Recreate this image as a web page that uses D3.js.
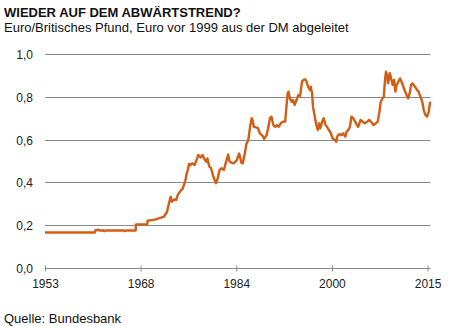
<!DOCTYPE html>
<html>
<head>
<meta charset="utf-8">
<script src="https://cdn.jsdelivr.net/npm/d3@7"></script>
<style>
  html, body { margin: 0; padding: 0; background: #fff; }
  svg { display: block; font-family: Arial, "Liberation Sans", sans-serif; }
</style>
</head>
<body>
<svg id="chart" width="451" height="326"></svg>
<script>
// Euro / British pound, sample points (decimal year, rate)
const years = [
  1953.0, 1961.15, 1961.2, 1961.5, 1961.6, 1961.9, 1962.0, 1962.6, 1962.7, 1962.9,
  1966.0, 1966.1, 1966.3, 1967.85, 1967.9, 1969.75, 1969.8, 1970.5, 1971.0, 1971.6,
  1972.0, 1972.5, 1972.7, 1973.0, 1973.2, 1973.5, 1973.6, 1973.8, 1974.0, 1974.3,
  1974.5, 1974.8, 1975.2, 1975.5, 1975.8, 1976.0, 1976.2, 1976.4, 1976.6, 1976.8,
  1977.1, 1977.5, 1977.9, 1978.1, 1978.5, 1978.8, 1979.1, 1979.4, 1979.6, 1979.9,
  1980.2, 1980.5, 1980.8, 1981.0, 1981.3, 1981.6, 1981.9, 1982.3, 1982.6, 1983.0,
  1983.2, 1983.5, 1983.9, 1984.4, 1984.8, 1985.2, 1985.4, 1985.75, 1986.0, 1986.3,
  1986.6, 1986.85, 1987.0, 1987.2, 1987.7, 1987.9, 1988.2, 1988.65, 1988.9, 1989.3,
  1989.55, 1989.85, 1990.1, 1990.4, 1990.7, 1991.0, 1991.3, 1991.6, 1992.0, 1992.35,
  1992.55, 1992.75, 1992.9, 1993.1, 1993.4, 1993.6, 1993.9, 1994.2, 1994.5, 1994.8,
  1995.1, 1995.35, 1995.6, 1995.85, 1996.1, 1996.4, 1996.55, 1996.75, 1996.9, 1997.2,
  1997.45, 1997.7, 1997.9, 1998.1, 1998.4, 1998.65, 1998.95, 1999.2, 1999.5, 1999.8,
  2000.1, 2000.5, 2000.7, 2000.9, 2001.2, 2001.6, 2001.85, 2002.2, 2002.4, 2002.7,
  2002.95, 2003.2, 2003.5, 2003.8, 2004.1, 2004.3, 2004.7, 2005.0, 2005.4, 2005.8,
  2006.1, 2006.4, 2006.8, 2007.2, 2007.5, 2007.75, 2008.0, 2008.3, 2008.5, 2008.7,
  2008.85, 2009.05, 2009.2, 2009.5, 2009.7, 2009.95, 2010.2, 2010.4, 2010.6, 2010.9,
  2011.15, 2011.4, 2011.7, 2012.0, 2012.25, 2012.5, 2012.8, 2012.95, 2013.2, 2013.6,
  2013.95, 2014.2, 2014.5, 2014.8, 2015.05, 2015.3, 2015.6, 2015.85, 2016.1
];
const rates = [
  0.166, 0.166, 0.175, 0.176, 0.179, 0.178, 0.175, 0.175, 0.172, 0.175,
  0.175, 0.172, 0.175, 0.175, 0.204, 0.204, 0.221, 0.224, 0.226, 0.232,
  0.235, 0.240, 0.250, 0.263, 0.290, 0.325, 0.333, 0.310, 0.316, 0.321,
  0.318, 0.345, 0.360, 0.368, 0.390, 0.410, 0.440, 0.460, 0.486, 0.481,
  0.489, 0.481, 0.510, 0.528, 0.517, 0.528, 0.510, 0.497, 0.512, 0.475,
  0.466, 0.435, 0.410, 0.396, 0.420, 0.458, 0.466, 0.458, 0.490, 0.530,
  0.500, 0.492, 0.489, 0.503, 0.535, 0.490, 0.489, 0.540, 0.580, 0.598,
  0.660, 0.700, 0.692, 0.660, 0.656, 0.653, 0.629, 0.617, 0.603, 0.621,
  0.653, 0.700, 0.707, 0.668, 0.660, 0.668, 0.660, 0.676, 0.684, 0.684,
  0.754, 0.816, 0.824, 0.793, 0.777, 0.785, 0.762, 0.785, 0.808, 0.804,
  0.871, 0.879, 0.882, 0.871, 0.847, 0.832, 0.847, 0.816, 0.754, 0.707,
  0.668, 0.645, 0.676, 0.653, 0.684, 0.700, 0.668, 0.660, 0.645, 0.632,
  0.606, 0.598, 0.590, 0.617, 0.626, 0.621, 0.629, 0.614, 0.637, 0.645,
  0.660, 0.707, 0.700, 0.684, 0.668, 0.660, 0.692, 0.684, 0.676, 0.684,
  0.692, 0.684, 0.668, 0.676, 0.684, 0.723, 0.777, 0.793, 0.800, 0.879,
  0.917, 0.902, 0.863, 0.910, 0.886, 0.855, 0.879, 0.824, 0.855, 0.871,
  0.886, 0.871, 0.847, 0.824, 0.808, 0.793, 0.824, 0.855, 0.863, 0.847,
  0.832, 0.824, 0.800, 0.777, 0.738, 0.715, 0.707, 0.730, 0.777
];

// Axis ticks: every 188 months from January 1953
const xTickValues = [1953, 1953 + 188 / 12, 1953 + 376 / 12, 1953 + 564 / 12, 1953 + 752 / 12];
const xTickLabels = ["1953", "1968", "1984", "2000", "2015"];
const yTickValues = [0, 0.2, 0.4, 0.6, 0.8, 1.0];

const title = "WIEDER AUF DEM ABWÄRTSTREND?";
const subtitle = "Euro/Britisches Pfund, Euro vor 1999 aus der DM abgeleitet";
const source = "Quelle: Bundesbank";

const svg = d3.select("#chart");
const plot = { left: 45, right: 430.5, top: 54, bottom: 268 };

const x = d3.scaleLinear().domain([1953, 2016.15]).range([plot.left, plot.right]);
const y = d3.scaleLinear().domain([0, 1]).range([plot.bottom, plot.top]);

const gridColor = "#8a8a8a";
const lineColor = "#d05e14";

// Horizontal gridlines
svg.append("g")
  .selectAll("line")
  .data(yTickValues.filter(d => d > 0))
  .join("line")
  .attr("x1", plot.left)
  .attr("x2", plot.right)
  .attr("y1", d => Math.round(y(d)) + 0.5)
  .attr("y2", d => Math.round(y(d)) + 0.5)
  .attr("stroke", gridColor)
  .attr("stroke-width", 1);

// Y axis labels
const fmt = d3.format(".1f");
svg.append("g")
  .selectAll("text")
  .data(yTickValues)
  .join("text")
  .attr("x", 33)
  .attr("y", d => Math.round(y(d)) + 4.5)
  .attr("text-anchor", "end")
  .attr("font-size", 12)
  .attr("fill", "#222")
  .text(d => fmt(d).replace(".", ","));

// X axis with ticks crossing the base line
const xAxis = d3.axisBottom(x)
  .tickValues(xTickValues)
  .tickFormat((d, i) => xTickLabels[i])
  .tickSizeInner(3)
  .tickSizeOuter(0)
  .tickPadding(8);

const gx = svg.append("g")
  .attr("transform", `translate(0,${Math.round(y(0)) + 0.5})`)
  .call(xAxis);
gx.select(".domain").attr("stroke", gridColor).attr("d", `M${plot.left},0H${plot.right}`);
gx.selectAll(".tick line").attr("stroke", gridColor).attr("y1", -3).attr("y2", 3);
gx.selectAll(".tick text")
  .attr("font-size", 12)
  .attr("font-family", "Arial, 'Liberation Sans', sans-serif")
  .attr("fill", "#222");

// Exchange rate line
const line = d3.line()
  .x(d => x(d[0]))
  .y(d => y(d[1]));

svg.append("path")
  .datum(d3.zip(years, rates))
  .attr("d", line)
  .attr("fill", "none")
  .attr("stroke", lineColor)
  .attr("stroke-width", 2.4)
  .attr("stroke-linejoin", "round");

// Titles and source
svg.append("text")
  .attr("x", 4).attr("y", 17)
  .attr("font-size", 13).attr("font-weight", "bold").attr("fill", "#111")
  .text(title);
svg.append("text")
  .attr("x", 4).attr("y", 32)
  .attr("font-size", 13).attr("fill", "#111")
  .text(subtitle);
svg.append("text")
  .attr("x", 4).attr("y", 323)
  .attr("font-size", 13).attr("fill", "#111")
  .text(source);
</script>
</body>
</html>
